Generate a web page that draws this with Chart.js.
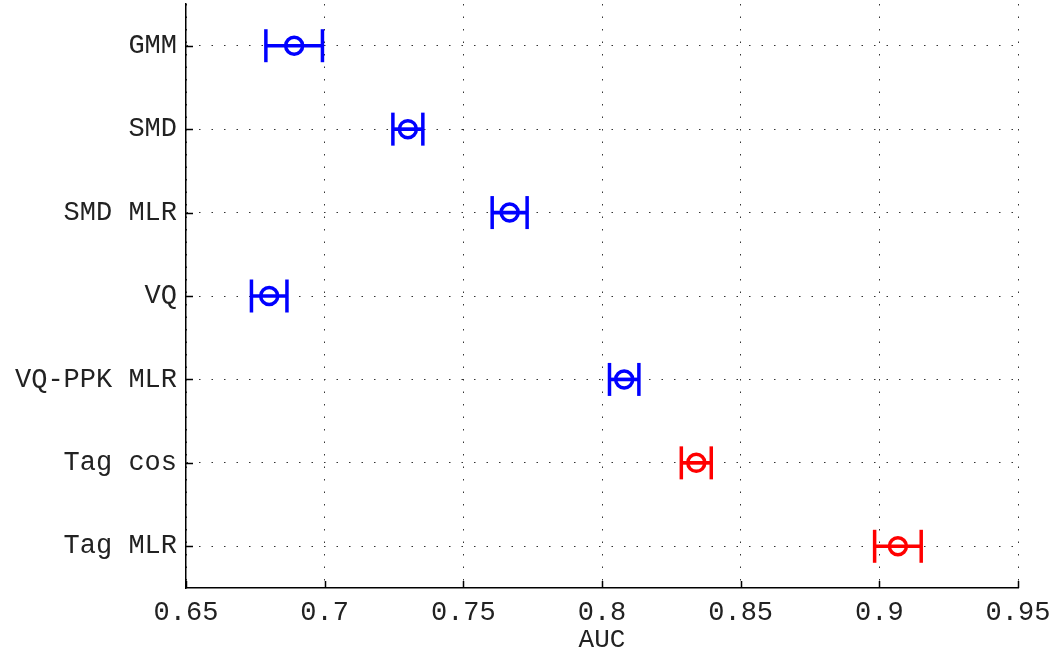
<!DOCTYPE html>
<html>
<head>
<meta charset="utf-8">
<script src="https://cdn.jsdelivr.net/npm/chart.js@4.4.1/dist/chart.umd.min.js"></script>
<style>
  html, body { margin: 0; padding: 0; background: #fff; }
  #wrap { width: 1055px; height: 654px; }
</style>
</head>
<body>
<div id="wrap"><canvas id="c" width="1055" height="654"></canvas></div>
<script>
// ---- data ----
const categories = ['GMM', 'SMD', 'SMD MLR', 'VQ', 'VQ-PPK MLR', 'Tag cos', 'Tag MLR'];
const aucMean    = [0.689, 0.730, 0.7667, 0.680, 0.808, 0.834, 0.9067];
const aucError   = [0.0102, 0.0054, 0.0063, 0.0064, 0.0053, 0.0054, 0.0084];
const methodKind = ['baseline', 'baseline', 'baseline', 'baseline', 'baseline', 'tag', 'tag'];
const xTicks     = [0.65, 0.7, 0.75, 0.8, 0.85, 0.9, 0.95];

// ---- styling ----
const kindColor = { baseline: '#0000ff', tag: '#ff0000' };
const colors = methodKind.map(k => kindColor[k]);
const FONT = "'Courier New', 'Liberation Mono', monospace";

const lows  = aucMean.map((m, i) => m - aucError[i]);
const highs = aucMean.map((m, i) => m + aucError[i]);

const innerTicks = {
  id: 'innerTicks',
  afterDraw(chart) {
    const ctx = chart.ctx, xs = chart.scales.x, ys = chart.scales.y, a = chart.chartArea;
    ctx.save();
    ctx.strokeStyle = '#000';
    ctx.lineWidth = 1.5;
    ctx.beginPath();
    xs.ticks.forEach((t, i) => {
      const px = Math.round(xs.getPixelForTick(i)) + 0.5;
      ctx.moveTo(px, a.bottom);
      ctx.lineTo(px, a.bottom - 7);
    });
    ys.ticks.forEach((t, i) => {
      const py = Math.round(ys.getPixelForTick(i)) + 0.5;
      ctx.moveTo(a.left, py);
      ctx.lineTo(a.left + 7, py);
    });
    ctx.stroke();
    ctx.restore();
  }
};

new Chart(document.getElementById('c'), {
  type: 'bar',
  data: {
    labels: categories,
    datasets: [
      {
        type: 'bar',
        indexAxis: 'y',
        data: lows.map((l, i) => [l, highs[i]]),
        backgroundColor: colors,
        borderWidth: 0,
        barThickness: 3,
        order: 3
      },
      {
        type: 'scatter',
        data: categories.flatMap((c, i) => [{ x: lows[i], y: c }, { x: highs[i], y: c }]),
        pointStyle: 'line',
        pointRotation: 90,
        pointRadius: 16.5,
        pointBorderWidth: 3.5,
        pointBorderColor: categories.flatMap((c, i) => [colors[i], colors[i]]),
        pointBackgroundColor: 'transparent',
        showLine: false,
        clip: false,
        order: 2
      },
      {
        type: 'scatter',
        data: categories.map((c, i) => ({ x: aucMean[i], y: c })),
        pointStyle: 'circle',
        pointRadius: 8.5,
        pointBorderWidth: 3.5,
        pointBorderColor: colors,
        pointBackgroundColor: 'rgba(0,0,0,0)',
        showLine: false,
        clip: false,
        order: 1
      }
    ]
  },
  options: {
    responsive: false,
    animation: false,
    events: [],
    layout: { autoPadding: false, padding: { left: 0, top: 4, right: 37, bottom: 0 } },
    plugins: { legend: { display: false }, tooltip: { enabled: false } },
    scales: {
      x: {
        type: 'linear',
        position: 'bottom',
        offset: false,
        min: 0.65,
        max: 0.95,
        afterBuildTicks(scale) { scale.ticks = xTicks.map(v => ({ value: v })); },
        afterFit(scale) {
          scale.height = 66;
          scale.paddingLeft = 0;
          scale.paddingRight = 0;
        },
        ticks: {
          padding: 9,
          color: '#222',
          font: { family: FONT, size: 27 },
          callback: v => String(v)
        },
        grid: { color: '#333', lineWidth: 1, drawTicks: false, offset: false },
        border: { color: '#000', width: 1.5, dash: [1.5, 11] },
        title: {
          display: true,
          text: 'AUC',
          color: '#222',
          font: { family: FONT, size: 26, lineHeight: 1 },
          padding: { top: 0, bottom: 1 }
        }
      },
      y: {
        type: 'category',
        labels: categories,
        offset: true,
        afterFit(scale) {
          scale.width = 186;
          scale.paddingTop = 0;
          scale.paddingBottom = 0;
        },
        ticks: {
          padding: 9,
          color: '#222',
          font: { family: FONT, size: 27 }
        },
        grid: { color: '#333', lineWidth: 1, drawTicks: false, offset: false },
        border: { color: '#000', width: 1.5, dash: [1.5, 11] }
      }
    }
  },
  plugins: [innerTicks]
});
</script>
</body>
</html>
